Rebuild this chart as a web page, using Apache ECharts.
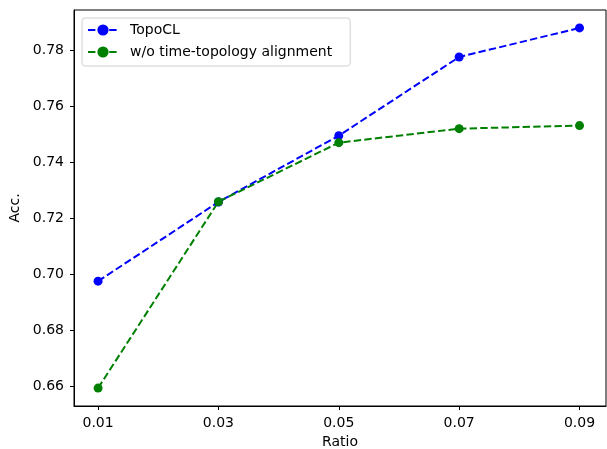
<!DOCTYPE html>
<html>
<head>
<meta charset="UTF-8">
<title>TopoCL ratio</title>
<script src="https://cdn.jsdelivr.net/npm/echarts@6/dist/echarts.min.js"></script>
<style>
  *{margin:0;padding:0}
  html,body{width:100%;height:100%;background:#fff}
  #main{width:607px;height:449px}
</style>
</head>
<body>
<div id="main"></div>
<script>
// data
var ratios = [0.01, 0.03, 0.05, 0.07, 0.09];
var topoCL = [0.6975, 0.7258, 0.7495, 0.7776, 0.7880];
var woAlign = [0.6593, 0.7259, 0.7470, 0.7520, 0.7531];
var xTicks = [0.01, 0.03, 0.05, 0.07, 0.09];
var yTicks = [0.66, 0.68, 0.70, 0.72, 0.74, 0.76, 0.78];

function pairs(ys) {
  return ratios.map(function (x, i) { return [x, ys[i]]; });
}

var font = 'DejaVu Sans';
var dash = [7.4, 3.2];

var option = {
  animation: false,
  textStyle: { fontFamily: font },
  grid: {
    left: 74, top: 10, right: 1, bottom: 43,
    outerBoundsMode: 'none', containLabel: false,
    show: true, borderColor: '#000', borderWidth: 1, backgroundColor: '#fff'
  },
  legend: {
    orient: 'vertical',
    left: 82, top: 18,
    padding: [5, 18, 7, 5],
    itemGap: 8,
    itemWidth: 30, itemHeight: 14,
    borderColor: '#d0d0d0', borderWidth: 1, borderRadius: 3,
    backgroundColor: 'rgba(255,255,255,0.8)',
    textStyle: { fontFamily: font, fontSize: 14, color: '#000', padding: [0, 0, 0, 7] },
    data: ['TopoCL', 'w/o time-topology alignment']
  },
  xAxis: {
    type: 'value',
    min: 0.006, max: 0.0944,
    name: 'Ratio', nameLocation: 'middle', nameGap: 29,
    nameTextStyle: { fontFamily: font, fontSize: 14, color: '#000' },
    axisLine: { show: true, lineStyle: { color: '#000', width: 1 } },
    axisTick: { show: true, length: 4, customValues: xTicks, lineStyle: { color: '#000' } },
    axisLabel: {
      customValues: xTicks, margin: 10,
      fontFamily: font, fontSize: 14, color: '#000',
      formatter: function (v) { return v.toFixed(2); }
    },
    splitLine: { show: false }
  },
  yAxis: {
    type: 'value',
    min: 0.6529, max: 0.7944,
    name: 'Acc.', nameLocation: 'middle', nameGap: 51,
    nameTextStyle: { fontFamily: font, fontSize: 14, color: '#000' },
    axisLine: { show: true, lineStyle: { color: '#000', width: 1 } },
    axisTick: { show: true, length: 4, customValues: yTicks, lineStyle: { color: '#000' } },
    axisLabel: {
      customValues: yTicks, margin: 10,
      fontFamily: font, fontSize: 14, color: '#000',
      formatter: function (v) { return v.toFixed(2); }
    },
    splitLine: { show: false }
  },
  series: [
    {
      name: 'TopoCL', type: 'line', data: pairs(topoCL),
      color: '#0000ff', symbol: 'circle', symbolSize: 9,
      lineStyle: { color: '#0000ff', width: 2, type: dash },
      itemStyle: { color: '#0000ff' }
    },
    {
      name: 'w/o time-topology alignment', type: 'line', data: pairs(woAlign),
      color: '#008000', symbol: 'circle', symbolSize: 9,
      lineStyle: { color: '#008000', width: 2, type: dash },
      itemStyle: { color: '#008000' }
    }
  ]
};

var myChart = echarts.init(document.getElementById('main'), null, { renderer: 'canvas' });
myChart.setOption(option);
</script>
</body>
</html>
